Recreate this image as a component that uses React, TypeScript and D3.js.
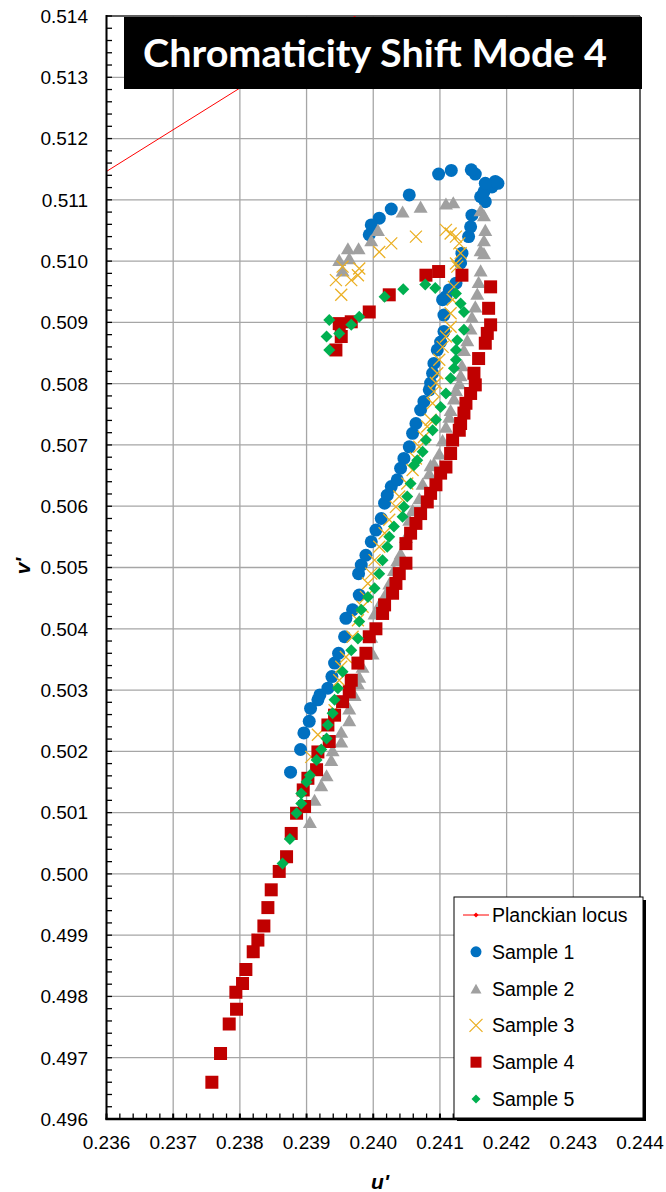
import React from 'react';
import * as d3 from 'd3';

const W = 666;
const H = 1192;
const PL = 106.5, PR = 640, PT = 16, PB = 1119;

const uTicks = [0.236, 0.237, 0.238, 0.239, 0.24, 0.241, 0.242, 0.243, 0.244];
const uTickLabels = ['0.236', '0.237', '0.238', '0.239', '0.240', '0.241', '0.242', '0.243', '0.244'];
const vTicks = [0.496, 0.497, 0.498, 0.499, 0.5, 0.501, 0.502, 0.503, 0.504, 0.505, 0.506, 0.507, 0.508, 0.509, 0.51, 0.511, 0.512, 0.513, 0.514];
const vTickLabels = ['0.496', '0.497', '0.498', '0.499', '0.500', '0.501', '0.502', '0.503', '0.504', '0.505', '0.506', '0.507', '0.508', '0.509', '0.510', '0.511', '0.512', '0.513', '0.514'];

const planckU = [0.2357, 0.2387, 0.2418];
const planckV = [0.51126, 0.5133, 0.5154];

const s1U = [0.23876, 0.23891, 0.23896, 0.23904, 0.23906, 0.23917, 0.2392, 0.23932, 0.23938, 0.23942, 0.23948, 0.23957, 0.23959, 0.23969, 0.23979, 0.23978, 0.23982, 0.23989, 0.23997, 0.24004, 0.24012, 0.24017, 0.24021, 0.24027, 0.24036, 0.24041, 0.24046, 0.24054, 0.24059, 0.24064, 0.24071, 0.24076, 0.24084, 0.24086, 0.24089, 0.24091, 0.24096, 0.24101, 0.24106, 0.24106, 0.24104, 0.24109, 0.24114, 0.24124, 0.24131, 0.24133, 0.24143, 0.24146, 0.24148, 0.24161, 0.24168, 0.24166, 0.24178, 0.24187, 0.24183, 0.24168, 0.24153, 0.24147, 0.24117, 0.24098, 0.24054, 0.24027, 0.24009, 0.23997, 0.23994];
const s1V = [0.50166, 0.50203, 0.5023, 0.50249, 0.5027, 0.50284, 0.50292, 0.50303, 0.50322, 0.50344, 0.5036, 0.50387, 0.50417, 0.50431, 0.50455, 0.5049, 0.50504, 0.5052, 0.50542, 0.50561, 0.5058, 0.50605, 0.50618, 0.50632, 0.50643, 0.50662, 0.50678, 0.50697, 0.50719, 0.50735, 0.50757, 0.50771, 0.5079, 0.50801, 0.50817, 0.50833, 0.50855, 0.50868, 0.50885, 0.50912, 0.50937, 0.50942, 0.50953, 0.50964, 0.50997, 0.51013, 0.5104, 0.51056, 0.51075, 0.51105, 0.51097, 0.51113, 0.51121, 0.51127, 0.5113, 0.51127, 0.51142, 0.51149, 0.51148, 0.51142, 0.51108, 0.51085, 0.5107, 0.51059, 0.51043];

const s2U = [0.23954, 0.23949, 0.23964, 0.23962, 0.23978, 0.23997, 0.24007, 0.24044, 0.24071, 0.24109, 0.2412, 0.24161, 0.24166, 0.24168, 0.24166, 0.24166, 0.24161, 0.24161, 0.24158, 0.24156, 0.24153, 0.24148, 0.24146, 0.24141, 0.24136, 0.24133, 0.24131, 0.24129, 0.24124, 0.24121, 0.24116, 0.24114, 0.24109, 0.24104, 0.24099, 0.24091, 0.24086, 0.24084, 0.24074, 0.24069, 0.24059, 0.24054, 0.24049, 0.24041, 0.24036, 0.24031, 0.24024, 0.24019, 0.2401, 0.24002, 0.23997, 0.23999, 0.23984, 0.23979, 0.23977, 0.23972, 0.23964, 0.23964, 0.23952, 0.23952, 0.23939, 0.23937, 0.2393, 0.23922, 0.23912, 0.23905];
const s2V = [0.50985, 0.51002, 0.51005, 0.51021, 0.51021, 0.51034, 0.51051, 0.51081, 0.51089, 0.51094, 0.51096, 0.51083, 0.51075, 0.51051, 0.51034, 0.51013, 0.51018, 0.50985, 0.50966, 0.50947, 0.50926, 0.50909, 0.5089, 0.50871, 0.50855, 0.5083, 0.50814, 0.50801, 0.5079, 0.50776, 0.50757, 0.50746, 0.5073, 0.50708, 0.50686, 0.5067, 0.50667, 0.50654, 0.50637, 0.50613, 0.50594, 0.50578, 0.5055, 0.50523, 0.50512, 0.50496, 0.50474, 0.50458, 0.50442, 0.50425, 0.50387, 0.5036, 0.50338, 0.50322, 0.50311, 0.50292, 0.5027, 0.50251, 0.50232, 0.50216, 0.50202, 0.50186, 0.50161, 0.50145, 0.50121, 0.50085];

const s3U = [0.23952, 0.23944, 0.23967, 0.23954, 0.23977, 0.23979, 0.24009, 0.24027, 0.24064, 0.24109, 0.24116, 0.24124, 0.24129, 0.24131, 0.24124, 0.24126, 0.24121, 0.24119, 0.24116, 0.24116, 0.24109, 0.24104, 0.24099, 0.24096, 0.24094, 0.24091, 0.24089, 0.24086, 0.24081, 0.24076, 0.24069, 0.24064, 0.24059, 0.24051, 0.24039, 0.24034, 0.24024, 0.24017, 0.24009, 0.24002, 0.23997, 0.23992, 0.23989, 0.23984, 0.23977, 0.23969, 0.23959, 0.23952, 0.23949, 0.23942, 0.23917, 0.23907];
const s3V = [0.50945, 0.50969, 0.50969, 0.50991, 0.50977, 0.50988, 0.51015, 0.51029, 0.5104, 0.51051, 0.51045, 0.5104, 0.51029, 0.51013, 0.50996, 0.50991, 0.50958, 0.50937, 0.50915, 0.50893, 0.50877, 0.5086, 0.50839, 0.50817, 0.50801, 0.50787, 0.50768, 0.50741, 0.5073, 0.50713, 0.50697, 0.50678, 0.50659, 0.50637, 0.50616, 0.50599, 0.50578, 0.50556, 0.50534, 0.50512, 0.5049, 0.50474, 0.50452, 0.50436, 0.50414, 0.50387, 0.50354, 0.50338, 0.50316, 0.50267, 0.50227, 0.50191];

const s4U = [0.23944, 0.23952, 0.23949, 0.23967, 0.23994, 0.24024, 0.24079, 0.24098, 0.24133, 0.24176, 0.24173, 0.24176, 0.24171, 0.24168, 0.24158, 0.24151, 0.24153, 0.24146, 0.24139, 0.24136, 0.24131, 0.24129, 0.24119, 0.24116, 0.24109, 0.24101, 0.24094, 0.24086, 0.24081, 0.24071, 0.24064, 0.24056, 0.24049, 0.24049, 0.24039, 0.24034, 0.24029, 0.24017, 0.24014, 0.24004, 0.23994, 0.23989, 0.23977, 0.23967, 0.23964, 0.23954, 0.23942, 0.23932, 0.23934, 0.23917, 0.23915, 0.23902, 0.23895, 0.23897, 0.23885, 0.23877, 0.2387, 0.23859, 0.23847, 0.23842, 0.23836, 0.23827, 0.2382, 0.23809, 0.23804, 0.23794, 0.23795, 0.23784, 0.23771, 0.23758];
const s4V = [0.50855, 0.50877, 0.50898, 0.50901, 0.50917, 0.50945, 0.50977, 0.50983, 0.50977, 0.50958, 0.50923, 0.50896, 0.50882, 0.50866, 0.50841, 0.50817, 0.50798, 0.50784, 0.50768, 0.50752, 0.50735, 0.50724, 0.50708, 0.50686, 0.50664, 0.50654, 0.50635, 0.50621, 0.50607, 0.50588, 0.50572, 0.50556, 0.50539, 0.50507, 0.5049, 0.50474, 0.50458, 0.50439, 0.50425, 0.504, 0.50387, 0.5036, 0.50344, 0.50316, 0.50297, 0.50281, 0.50259, 0.50243, 0.50216, 0.50199, 0.5017, 0.50156, 0.50137, 0.5011, 0.50099, 0.50066, 0.50028, 0.50004, 0.49974, 0.49945, 0.49915, 0.49892, 0.49873, 0.49844, 0.49821, 0.49807, 0.49779, 0.49755, 0.49707, 0.4966];

const s5U = [0.23934, 0.2393, 0.23934, 0.23949, 0.23967, 0.23979, 0.24017, 0.24045, 0.24078, 0.24093, 0.24124, 0.24131, 0.24136, 0.24136, 0.24126, 0.24124, 0.24124, 0.24121, 0.24116, 0.24109, 0.24101, 0.24094, 0.24089, 0.24079, 0.24074, 0.24066, 0.24061, 0.24056, 0.24051, 0.24046, 0.24044, 0.24031, 0.24024, 0.24021, 0.24014, 0.24009, 0.24002, 0.23992, 0.23982, 0.23979, 0.23977, 0.23967, 0.23954, 0.23947, 0.23942, 0.23939, 0.23932, 0.2393, 0.23922, 0.23915, 0.23905, 0.239, 0.23892, 0.23892, 0.23885, 0.23875, 0.23864];
const s5V = [0.50855, 0.50877, 0.50904, 0.50882, 0.50896, 0.50909, 0.50942, 0.50954, 0.50962, 0.50956, 0.50947, 0.50931, 0.50917, 0.50888, 0.50871, 0.50855, 0.50839, 0.50825, 0.50809, 0.50784, 0.50762, 0.50741, 0.50724, 0.50708, 0.50689, 0.50675, 0.50667, 0.50637, 0.50616, 0.50599, 0.50583, 0.50567, 0.5055, 0.50534, 0.50512, 0.5049, 0.50466, 0.50452, 0.50431, 0.50412, 0.50384, 0.50365, 0.5033, 0.50303, 0.50284, 0.50262, 0.50243, 0.50221, 0.50203, 0.50186, 0.50161, 0.5015, 0.50131, 0.50115, 0.50099, 0.50057, 0.50017];

const seriesNames = ['Planckian locus', 'Sample 1', 'Sample 2', 'Sample 3', 'Sample 4', 'Sample 5'];
const seriesColors = ['#ff0000', '#0070c0', '#a0a0a0', '#ebb024', '#c00000', '#00b050'];

const TITLE = 'Chromaticity Shift Mode 4';

const x = d3.scaleLinear().domain([0.236, 0.244]).range([PL, PR]);
const y = d3.scaleLinear().domain([0.496, 0.514]).range([PB, PT]);

type Shape = 'circle' | 'triangle' | 'x' | 'square' | 'diamond';

function markerPath(shape: Shape, s: number): string {
  switch (shape) {
    case 'circle':
      return d3.symbol(d3.symbolCircle, Math.PI * (s / 2) * (s / 2))() as string;
    case 'square':
      return `M${-s / 2},${-s / 2}h${s}v${s}h${-s}Z`;
    case 'diamond':
      return `M0,${-s / 2}L${s / 2},0L0,${s / 2}L${-s / 2},0Z`;
    case 'triangle': {
      const h = s * 0.87;
      return `M0,${-h / 2}L${s / 2},${h / 2}L${-s / 2},${h / 2}Z`;
    }
    case 'x':
      return `M${-s / 2},${-s / 2}L${s / 2},${s / 2}M${-s / 2},${s / 2}L${s / 2},${-s / 2}`;
  }
}

function Marker({ shape, color, size, cx, cy }: { shape: Shape; color: string; size: number; cx: number; cy: number }) {
  const d = markerPath(shape, size);
  if (shape === 'x') {
    return <path d={d} transform={`translate(${cx},${cy})`} fill="none" stroke={color} strokeWidth={1.3} />;
  }
  return <path d={d} transform={`translate(${cx},${cy})`} fill={color} />;
}

export default function App() {
  const minorU = d3.range(0, 41).map((i) => 0.236 + i * 0.0002);
  const minorV = d3.range(0, 91).map((i) => 0.496 + i * 0.0002);

  const series: { u: number[]; v: number[]; shape: Shape; color: string; size: number }[] = [
    { u: s1U, v: s1V, shape: 'circle', color: seriesColors[1], size: 13 },
    { u: s2U, v: s2V, shape: 'triangle', color: seriesColors[2], size: 14 },
    { u: s3U, v: s3V, shape: 'x', color: seriesColors[3], size: 12 },
    { u: s4U, v: s4V, shape: 'square', color: seriesColors[4], size: 13 },
    { u: s5U, v: s5V, shape: 'diamond', color: seriesColors[5], size: 12 },
  ];
  const legendShapes: Shape[] = ['circle', 'triangle', 'x', 'square', 'diamond'];
  const legendSizes = [11, 11, 13, 11, 9];

  const locusLine = d3
    .line<number>()
    .x((_, i) => x(planckU[i]))
    .y((_, i) => y(planckV[i]))(planckU) as string;

  const font = "'Liberation Sans', Arial, sans-serif";
  const LX = 454, LY = 897, LW = 189, LH = 221;

  return (
    <svg width={W} height={H} style={{ position: 'absolute', left: 0, top: 0, background: '#fff' }} fontFamily={font}>
      <defs>
        <clipPath id="plot">
          <rect x={PL} y={PT} width={PR - PL} height={PB - PT} />
        </clipPath>
      </defs>
      <rect x={0} y={0} width={W} height={H} fill="#fff" />
      {/* grid */}
      {uTicks.map((t, i) => (
        <line key={'gx' + i} x1={x(t)} x2={x(t)} y1={PT} y2={PB} stroke="#a6a6a6" strokeWidth={1.3} />
      ))}
      {vTicks.map((t, i) => (
        <line key={'gy' + i} x1={PL} x2={PR} y1={y(t)} y2={y(t)} stroke="#a6a6a6" strokeWidth={1.3} />
      ))}
      {/* plot border */}
      <line x1={PL} x2={PR} y1={PT} y2={PT} stroke="#404040" strokeWidth={1.5} />
      <line x1={PR} x2={PR} y1={PT} y2={PB} stroke="#404040" strokeWidth={1.5} />

      <g clipPath="url(#plot)">
        <path d={locusLine} fill="none" stroke="#ff0000" strokeWidth={1} />
        {planckU.map((u, i) => (
          <Marker key={'pl' + i} shape="diamond" color="#ff0000" size={5} cx={x(u)} cy={y(planckV[i])} />
        ))}
        {series.map((s, si) => (
          <g key={'s' + si}>
            {s.u.map((u, i) => (
              <Marker key={i} shape={s.shape} color={s.color} size={s.size} cx={x(u)} cy={y(s.v[i])} />
            ))}
          </g>
        ))}
      </g>

      {/* title box */}
      <rect x={124} y={17} width={518} height={72} fill="#000" />
      <text x={143} y={67} fill="#fff" fontFamily="Lato, 'Open Sans', sans-serif" fontWeight={700} fontSize={38} textLength={464} lengthAdjust="spacingAndGlyphs">
        {TITLE}
      </text>

      {/* axes */}
      <line x1={PL} x2={PL} y1={PT - 1} y2={PB + 1} stroke="#000" strokeWidth={2} />
      <line x1={PL - 1} x2={PR + 1} y1={PB} y2={PB} stroke="#000" strokeWidth={2.5} />
      {minorV.map((t, i) => (
        <line key={'mv' + i} x1={PL} x2={PL + 5.5} y1={y(t)} y2={y(t)} stroke="#000" strokeWidth={1.3} />
      ))}
      {minorU.map((t, i) => (
        <line key={'mu' + i} x1={x(t)} x2={x(t)} y1={PB} y2={PB - 5.5} stroke="#000" strokeWidth={i % 5 === 0 ? 2 : 1.3} />
      ))}
      {vTicks.map((t, i) => (
        <text key={'ly' + i} x={88} y={y(t)} dy="0.36em" textAnchor="end" fontSize={19} fill="#000">
          {vTickLabels[i]}
        </text>
      ))}
      {uTicks.map((t, i) => (
        <text key={'lx' + i} x={x(t)} y={1149} textAnchor="middle" fontSize={19} fill="#000">
          {uTickLabels[i]}
        </text>
      ))}
      <text x={380} y={1189} textAnchor="middle" fontSize={21} fontWeight={700} fontStyle="italic" fill="#000">
        u'
      </text>
      <text transform="translate(30,566) rotate(-90)" textAnchor="middle" fontSize={21} fontWeight={700} fontStyle="italic" fill="#000">
        v'
      </text>

      {/* legend */}
      <rect x={LX + 3} y={LY + 3} width={LW} height={LH} fill="#000" />
      <rect x={LX} y={LY} width={LW} height={LH} fill="#fff" stroke="#000" strokeWidth={1} />
      {seriesNames.map((name, i) => {
        const cy = LY + 18 + i * 36.8;
        return (
          <g key={'lg' + i}>
            {i === 0 ? (
              <g>
                <line x1={463} x2={489} y1={cy} y2={cy} stroke="#ff0000" strokeWidth={1} />
                <Marker shape="diamond" color="#ff0000" size={5} cx={476} cy={cy} />
              </g>
            ) : (
              <Marker shape={legendShapes[i - 1]} color={seriesColors[i]} size={legendSizes[i - 1]} cx={476} cy={cy} />
            )}
            <text x={492} y={cy} dy="0.36em" fontSize={19.5} fill="#000">
              {name}
            </text>
          </g>
        );
      })}
    </svg>
  );
}
